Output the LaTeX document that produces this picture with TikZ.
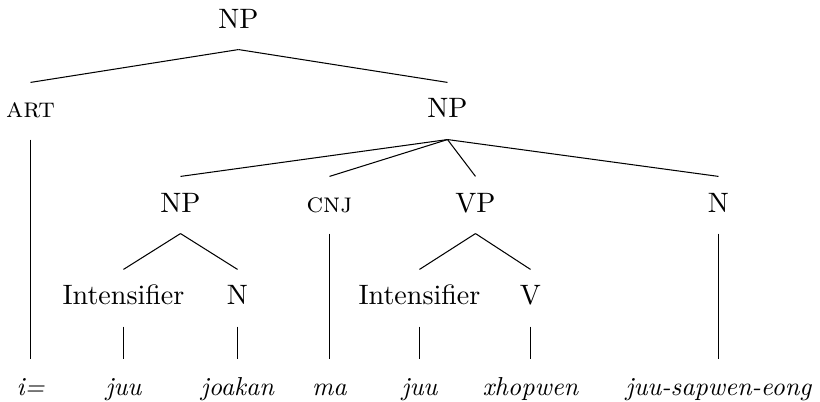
\documentclass[tikz,border=0pt]{standalone}
\usepackage{amsmath}
\usepackage{tikz}

\begin{document}
\begin{tikzpicture}[x=0.385pt,y=-0.385pt,
    cat/.style={anchor=base,inner xsep=0pt,inner ysep=6pt,text height=7.5pt,text depth=2.1pt,
      font=\fontsize{10.8}{13}\selectfont},
    word/.style={cat,font=\fontsize{10}{12}\selectfont\itshape}]
  \useasboundingbox (-0.5,0) rectangle (819.5,402);
  \node[cat] (top) at (238,28) {NP};
  \node[cat] (art) at (30,118) {\textsc{art}};
  \node[cat] (np) at (447,118) {NP};
  \node[cat] (npl) at (180,212) {NP};
  \node[cat] (cnj) at (329,212) {\textsc{cnj}};
  \node[cat] (vp) at (475,212) {VP};
  \node[cat] (nr) at (718,212) {N};
  \node[cat] (intl) at (123,305) {Intensifier};
  \node[cat] (nl) at (237,305) {N};
  \node[cat] (intr) at (419,305) {Intensifier};
  \node[cat] (v) at (530,305) {V};
  \node[word] (w1) at (30,395) {i=};
  \node[word] (w2) at (123,395) {juu};
  \node[word] (w3) at (237,395) {joakan};
  \node[word] (w4) at (329,395) {ma};
  \node[word] (w5) at (419,395) {juu};
  \node[word] (w6) at (530,395) {xhopwen};
  \node[word] (w7) at (718,395) {juu-sapwen-eong};
  \draw (top.south) -- (art.north); \draw (top.south) -- (np.north);
  \draw (np.south) -- (npl.north); \draw (np.south) -- (cnj.north);
  \draw (np.south) -- (vp.north); \draw (np.south) -- (nr.north);
  \draw (npl.south) -- (intl.north); \draw (npl.south) -- (nl.north);
  \draw (vp.south) -- (intr.north); \draw (vp.south) -- (v.north);
  \draw (art.south) -- (w1.north); \draw (intl.south) -- (w2.north);
  \draw (nl.south) -- (w3.north); \draw (cnj.south) -- (w4.north);
  \draw (intr.south) -- (w5.north); \draw (v.south) -- (w6.north);
  \draw (nr.south) -- (w7.north);
\end{tikzpicture}
\end{document}
